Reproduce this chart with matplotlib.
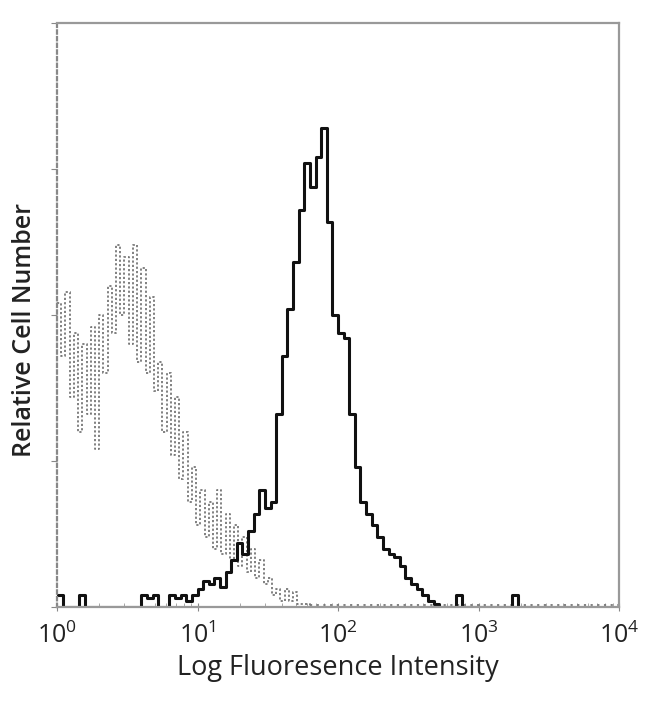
import numpy as np
import matplotlib
matplotlib.use("Agg")
import matplotlib.pyplot as plt

plt.rcParams['font.family'] = ['Open Sans', 'DejaVu Sans']
plt.rcParams['mathtext.fontset'] = 'custom'
plt.rcParams['mathtext.rm'] = 'Open Sans'

# stained sample: log10 bin edges, 0.04 decade wide
stain_start = 0.0
stain_step = 0.04
stain_counts = [0.02, 0, 0, 0, 0.02, 0, 0, 0, 0, 0,
                0, 0, 0, 0, 0, 0.02, 0.015, 0.02, 0, 0,
                0.02, 0.015, 0.02, 0.01, 0.02, 0.03, 0.045, 0.04, 0.05, 0.035,
                0.06, 0.08, 0.11, 0.09, 0.13, 0.16, 0.20, 0.17, 0.18, 0.33,
                0.43, 0.51, 0.59, 0.68, 0.76, 0.72, 0.77, 0.82, 0.66, 0.50,
                0.47, 0.46, 0.33, 0.24, 0.18, 0.16, 0.14, 0.12, 0.10, 0.09,
                0.085, 0.07, 0.05, 0.04, 0.03, 0.02, 0.01, 0.005, 0, 0,
                0, 0.02, 0, 0, 0, 0, 0, 0, 0, 0,
                0, 0.02, 0, 0, 0]

# isotype control: log10 bin edges, 0.03 decade wide
ctrl_start = 0.0
ctrl_step = 0.03
ctrl_counts = [0.52, 0.43, 0.54, 0.36, 0.47, 0.30, 0.45, 0.33, 0.48, 0.27,
               0.50, 0.40, 0.55, 0.47, 0.62, 0.50, 0.60, 0.45, 0.62, 0.42,
               0.58, 0.40, 0.53, 0.37, 0.42, 0.30, 0.40, 0.26, 0.36, 0.22,
               0.30, 0.18, 0.24, 0.14, 0.20, 0.12, 0.18, 0.10, 0.20, 0.09,
               0.16, 0.08, 0.14, 0.07, 0.12, 0.06, 0.10, 0.05, 0.08, 0.04,
               0.05, 0.02, 0.03, 0.01, 0.03, 0.01, 0.025, 0.005, 0.005, 0.005]

x_ticks = [1, 10, 100, 1000, 10000]
x_tick_labels = [r'$\mathregular{10^{0}}$', r'$\mathregular{10^{1}}$', r'$\mathregular{10^{2}}$',
                 r'$\mathregular{10^{3}}$', r'$\mathregular{10^{4}}$']


def step_xy(start, step, counts):
    edges = 10 ** (start + step * np.arange(len(counts) + 1))
    ys = np.append(counts, 0)
    return edges, ys


fig = plt.figure(figsize=(6.5, 7.04), dpi=100)
ax = fig.add_axes([57 / 650, 1 - 607 / 704, 562 / 650, 584 / 704])

ex, ey = step_xy(ctrl_start, ctrl_step, ctrl_counts)
ax.step(ex, ey, where='post', color='#777777', lw=1.3, ls=(0, (1.2, 1.2)))
ax.plot([ex[-1], 10000], [0.004, 0.004], color='#777777', lw=1.3, ls=(0, (1.2, 2.5)))

sx, sy = step_xy(stain_start, stain_step, stain_counts)
ax.step(sx, sy, where='post', color='#111111', lw=2.2)

ax.set_xscale('log')
ax.set_xlim(1, 10000)
ax.set_ylim(0, 1)
ax.set_xticks(x_ticks)
ax.set_xticklabels(x_tick_labels, fontsize=18, color='#222222')
ax.set_yticks([0, 0.25, 0.5, 0.75, 1.0])
ax.set_yticklabels([])
ax.tick_params(axis='y', direction='out', length=4, color='#888888')
ax.tick_params(axis='x', which='major', direction='inout', length=6, color='#888888', pad=8)
ax.tick_params(axis='x', which='minor', direction='in', length=3, color='#999999')

for side in ['top', 'right', 'bottom']:
    ax.spines[side].set_color('#999999')
    ax.spines[side].set_linewidth(1.6)
ax.spines['left'].set_color('#888888')
ax.spines['left'].set_linewidth(1.6)
ax.spines['left'].set_linestyle((0, (1.5, 1.5)))

ax.set_xlabel('Log Fluoresence Intensity', fontsize=19.5, color='#222222', labelpad=4)
ax.set_ylabel('Relative Cell Number', fontsize=18, color='#222222', fontweight='semibold')
ax.yaxis.set_label_coords(-0.036, 0.474)

fig.savefig('out.png', dpi=100)
